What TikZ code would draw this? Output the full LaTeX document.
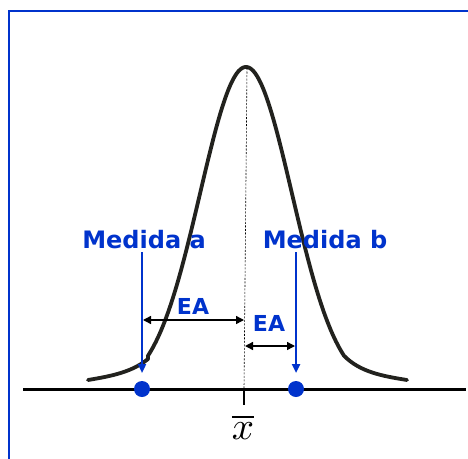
\documentclass[tikz,border=0pt]{standalone}
\usepackage{fontspec}
\newfontfamily\labfont{DejaVu Sans}
\usetikzlibrary{arrows.meta}
\definecolor{mblue}{RGB}{0,51,204}
\definecolor{mcurve}{RGB}{34,34,30}
\tikzset{
  lab/.style={font=\labfont\bfseries\fontsize{24}{26}\selectfont, text=mblue, inner sep=0pt},
  ealab/.style={font=\labfont\bfseries\fontsize{22}{24}\selectfont, text=mblue, inner sep=0pt},
  meas/.style={draw=mblue, line width=2.5pt, -{Triangle[length=9pt,width=8pt]}},
  eaarr/.style={draw=black, line width=1.4pt, {Triangle[length=8pt,width=8pt]}-{Triangle[length=8pt,width=8pt]}},
  dot/.style={circle, fill=mblue, minimum size=16pt, inner sep=0pt},
}
\begin{document}
\begin{tikzpicture}[x=1pt,y=-1pt]
\useasboundingbox (0,0) rectangle (468,458);
% frame
\draw[mblue, line width=2.2pt] (9,470) -- (9,11) -- (480,11);
% axis
\coordinate (axl) at (23,389);
\coordinate (axr) at (466,389);
\draw[line width=3pt] (axl) -- (axr);
% curve
\draw[mcurve, line width=3.8pt, line join=round, line cap=round]
  (88,380) .. controls (112,376) and (132,372) .. (148,359)
  -- plot[domain=-98:98, samples=120] ({246+\x},{389-322*exp(-(\x*\x)/(2*2116))})
  .. controls (360,372) and (382,376) .. (407,380);
% mean dashed line
\coordinate (peak) at (247,68);
\coordinate (mbase) at (244,389);
\draw[black, line width=0.6pt, dash pattern=on 2pt off 1.5pt] (peak) -- (mbase);
% tick
\coordinate (tickb) at (244,405);
\draw[line width=1.4pt] (mbase) -- (tickb);
\node[inner sep=0pt] (xbar) at (243,427) {\scalebox{3.9}{$\overline{x}$}};
% dots
\node[dot] (da) at (142,389) {};
\node[dot] (db) at (296,389) {};
% labels
\node[lab] (ma) at (144,240) {Medida a};
\node[lab] (mb) at (325,240) {Medida b};
% measurement arrows
\coordinate (as) at (142,252);
\coordinate (ae) at (142,373);
\coordinate (bs) at (296,252);
\coordinate (be) at (296,373);
\draw[meas] (as) -- (ae);
\draw[meas] (bs) -- (be);
% EA arrows
\coordinate (e1a) at (143,320);
\coordinate (e1b) at (244,320);
\coordinate (e2a) at (245,346);
\coordinate (e2b) at (295,346);
\draw[eaarr] (e1a) -- (e1b);
\draw[eaarr] (e2a) -- (e2b);
\node[ealab] (ea1) at (193,306) {EA};
\node[ealab] (ea2) at (269,323) {EA};
\end{tikzpicture}
\end{document}
